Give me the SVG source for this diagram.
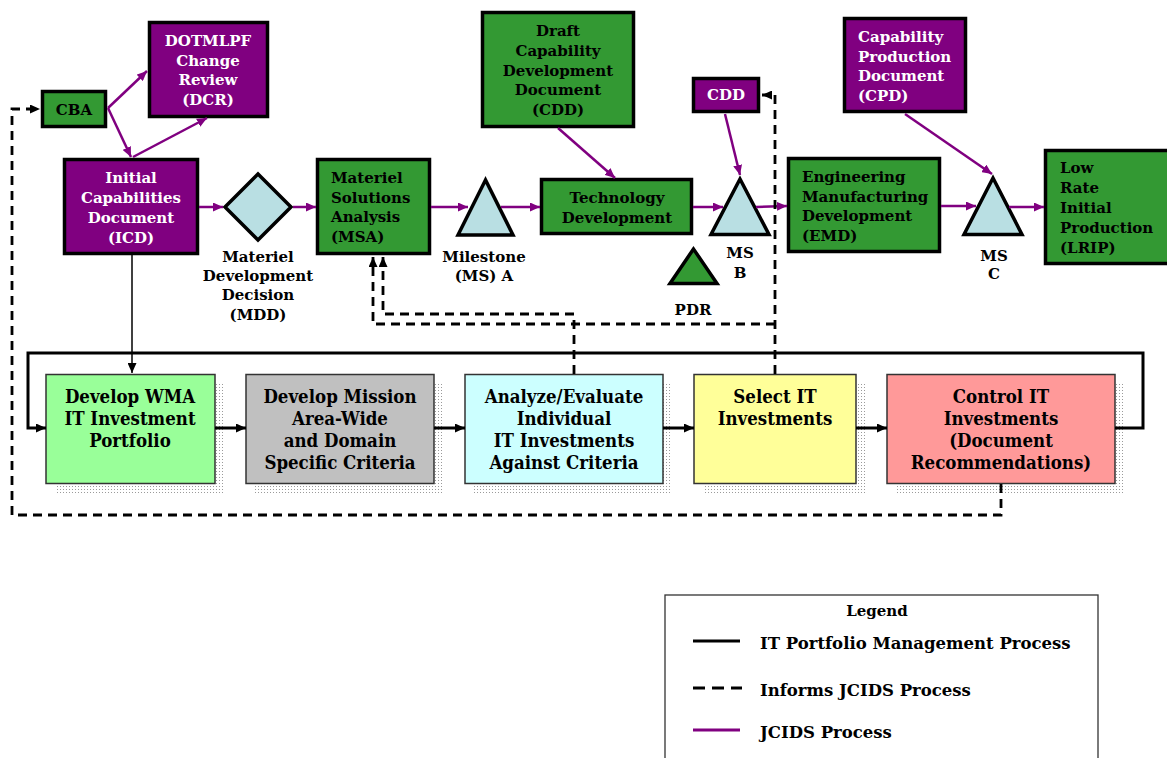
<svg xmlns="http://www.w3.org/2000/svg" width="1167" height="758" viewBox="0 0 1167 758">
  <style>
    .t { font-family: "DejaVu Serif", "Liberation Serif", serif; font-weight: bold; font-size: 15px; fill: #000; }
    .b { font-family: "DejaVu Serif Condensed", "DejaVu Serif", "Liberation Serif", serif; font-stretch: condensed; font-weight: bold; font-size: 18.5px; fill: #000; text-anchor: middle; }
    .lg { font-size: 16.5px; }
    .w { fill: #fff; }
    .c { text-anchor: middle; }
    .grn { fill: #339933; stroke: #000; stroke-width: 3.5; }
    .pur { fill: #800080; stroke: #000; stroke-width: 3.5; }
    .ms { fill: #b9dfe3; stroke: #000; stroke-width: 3.5; stroke-linejoin: miter; }
    .box { stroke: #333; stroke-width: 1.5; }
    .shadow { fill: url(#dots); }
    .jc { fill: none; stroke: #800080; stroke-width: 2.5; marker-end: url(#ap); }
    .pm { fill: none; stroke: #000; stroke-width: 3; marker-end: url(#ab); }
    .inf { fill: none; stroke: #000; stroke-width: 2.8; stroke-dasharray: 9 6; marker-end: url(#ab); }
  </style>
  <defs>
    <marker id="ap" markerUnits="userSpaceOnUse" markerWidth="11" markerHeight="9" refX="10" refY="4.5" orient="auto">
      <path d="M0,0 L10,4.5 L0,9 z" fill="#800080"/>
    </marker>
    <marker id="ab" markerUnits="userSpaceOnUse" markerWidth="11" markerHeight="9" refX="10" refY="4.5" orient="auto">
      <path d="M0,0 L10,4.5 L0,9 z" fill="#000"/>
    </marker>
    <pattern id="dots" width="3" height="3" patternUnits="userSpaceOnUse">
      <rect x="0" y="0" width="1" height="1" fill="#9a9a9a"/>
    </pattern>
  </defs>

  <!-- JCIDS acquisition chain -->
  <g id="cba">
    <rect class="grn" x="42.5" y="91.5" width="63" height="35"/>
    <text class="t c" x="74" y="115">CBA</text>
  </g>
  <g id="dcr">
    <rect class="pur" x="149.5" y="22.5" width="118" height="94"/>
    <text class="t c w" x="208" y="46">DOTMLPF</text>
    <text class="t c w" x="208" y="66">Change</text>
    <text class="t c w" x="208" y="85">Review</text>
    <text class="t c w" x="208" y="105">(DCR)</text>
  </g>
  <g id="icd">
    <rect class="pur" x="64.5" y="159.5" width="133" height="94"/>
    <text class="t c w" x="131" y="183">Initial</text>
    <text class="t c w" x="131" y="203">Capabilities</text>
    <text class="t c w" x="131" y="223">Document</text>
    <text class="t c w" x="131" y="243">(ICD)</text>
  </g>
  <g id="mdd">
    <polygon class="ms" points="258,174 291,207 258,240 225,207"/>
    <text class="t c" x="258" y="262">Materiel</text>
    <text class="t c" x="258" y="281">Development</text>
    <text class="t c" x="258" y="300">Decision</text>
    <text class="t c" x="258" y="320">(MDD)</text>
  </g>
  <g id="msa">
    <rect class="grn" x="317.5" y="159.5" width="112" height="94"/>
    <text class="t" x="331" y="183">Materiel</text>
    <text class="t" x="331" y="203">Solutions</text>
    <text class="t" x="331" y="222">Analysis</text>
    <text class="t" x="331" y="242">(MSA)</text>
  </g>
  <g id="ms-a">
    <polygon class="ms" points="485.5,180 458,235 513,235"/>
    <text class="t c" x="484" y="262">Milestone</text>
    <text class="t c" x="484" y="281">(MS) A</text>
  </g>
  <g id="draft-cdd">
    <rect class="grn" x="482.5" y="12.5" width="151" height="114"/>
    <text class="t c" x="558" y="36">Draft</text>
    <text class="t c" x="558" y="56">Capability</text>
    <text class="t c" x="558" y="76">Development</text>
    <text class="t c" x="558" y="95">Document</text>
    <text class="t c" x="558" y="115">(CDD)</text>
  </g>
  <g id="td">
    <rect class="grn" x="541.5" y="179.5" width="150" height="54"/>
    <text class="t c" x="617" y="203">Technology</text>
    <text class="t c" x="617" y="223">Development</text>
  </g>
  <g id="cdd">
    <rect class="pur" x="693.5" y="78.5" width="65" height="33"/>
    <text class="t c w" x="726" y="100">CDD</text>
  </g>
  <g id="ms-b">
    <polygon class="ms" points="740,179 711,234.5 769,234.5"/>
    <text class="t c" x="740" y="258">MS</text>
    <text class="t c" x="740" y="278">B</text>
  </g>
  <g id="pdr">
    <polygon class="grn" points="693.5,249 670,283.5 717,283.5"/>
    <text class="t c" x="693" y="315">PDR</text>
  </g>
  <g id="emd">
    <rect class="grn" x="788.5" y="158.5" width="151" height="93"/>
    <text class="t" x="802" y="182">Engineering</text>
    <text class="t" x="802" y="202">Manufacturing</text>
    <text class="t" x="802" y="221">Development</text>
    <text class="t" x="802" y="241">(EMD)</text>
  </g>
  <g id="cpd">
    <rect class="pur" x="844.5" y="18.5" width="121" height="93"/>
    <text class="t w" x="858" y="42">Capability</text>
    <text class="t w" x="858" y="62">Production</text>
    <text class="t w" x="858" y="81">Document</text>
    <text class="t w" x="858" y="101">(CPD)</text>
  </g>
  <g id="ms-c">
    <polygon class="ms" points="993,178 964,234.5 1022,234.5"/>
    <text class="t c" x="994" y="261">MS</text>
    <text class="t c" x="994" y="279">C</text>
  </g>
  <g id="lrip">
    <rect class="grn" x="1045.5" y="150.5" width="130" height="113"/>
    <text class="t" x="1060" y="173">Low</text>
    <text class="t" x="1060" y="193">Rate</text>
    <text class="t" x="1060" y="213">Initial</text>
    <text class="t" x="1060" y="233">Production</text>
    <text class="t" x="1060" y="253">(LRIP)</text>
  </g>

  <!-- IT portfolio management steps -->
  <g id="wma">
    <rect class="shadow" x="55" y="384" width="169" height="109"/>
    <rect class="box" fill="#99ff99" x="46" y="374.5" width="169" height="109"/>
    <text class="b" x="130" y="403">Develop WMA</text>
    <text class="b" x="130" y="425">IT Investment</text>
    <text class="b" x="130" y="447">Portfolio</text>
  </g>
  <g id="criteria">
    <rect class="shadow" x="255" y="384" width="188" height="109"/>
    <rect class="box" fill="#c0c0c0" x="246" y="374.5" width="188" height="109"/>
    <text class="b" x="340" y="403">Develop Mission</text>
    <text class="b" x="340" y="425">Area-Wide</text>
    <text class="b" x="340" y="447">and Domain</text>
    <text class="b" x="340" y="469">Specific Criteria</text>
  </g>
  <g id="analyze">
    <rect class="shadow" x="474" y="384" width="198" height="109"/>
    <rect class="box" fill="#ccffff" x="465" y="374.5" width="198" height="109"/>
    <text class="b" x="564" y="403">Analyze/Evaluate</text>
    <text class="b" x="564" y="425">Individual</text>
    <text class="b" x="564" y="447">IT Investments</text>
    <text class="b" x="564" y="469">Against Criteria</text>
  </g>
  <g id="select">
    <rect class="shadow" x="703" y="384" width="162" height="109"/>
    <rect class="box" fill="#ffff99" x="694" y="374.5" width="162" height="109"/>
    <text class="b" x="775" y="403">Select IT</text>
    <text class="b" x="775" y="425">Investments</text>
  </g>
  <g id="control">
    <rect class="shadow" x="896" y="384" width="228" height="109"/>
    <rect class="box" fill="#ff9999" x="887" y="374.5" width="228" height="109"/>
    <text class="b" x="1001" y="403">Control IT</text>
    <text class="b" x="1001" y="425">Investments</text>
    <text class="b" x="1001" y="447">(Document</text>
    <text class="b" x="1001" y="469">Recommendations)</text>
  </g>

  <g id="connectors">
    <!-- JCIDS flow -->
    <line class="jc" x1="108" y1="108" x2="147" y2="71"/>
    <line class="jc" x1="108" y1="108" x2="131" y2="157"/>
    <line class="jc" x1="133" y1="157" x2="207" y2="118"/>
    <line class="jc" x1="199" y1="207" x2="223" y2="207"/>
    <line class="jc" x1="293" y1="207" x2="316" y2="207"/>
    <line class="jc" x1="431" y1="207" x2="468" y2="207"/>
    <line class="jc" x1="501" y1="207" x2="540" y2="207"/>
    <line class="jc" x1="558" y1="128" x2="615" y2="178"/>
    <line class="jc" x1="693" y1="207" x2="723" y2="207"/>
    <line class="jc" x1="756" y1="207" x2="787" y2="206"/>
    <line class="jc" x1="725" y1="114" x2="740" y2="175"/>
    <line class="jc" x1="941" y1="206" x2="976" y2="206"/>
    <line class="jc" x1="1009" y1="207" x2="1044" y2="207"/>
    <line class="jc" x1="905" y1="114" x2="992" y2="174"/>

    <!-- IT portfolio management flow -->
    <line class="pm" style="stroke-width:1.5" x1="132" y1="255" x2="132" y2="373"/>
    <path class="pm" d="M1115,428 H1143 V353 H28 V428 H46"/>
    <line class="pm" x1="215" y1="428" x2="246" y2="428"/>
    <line class="pm" x1="434" y1="428" x2="465" y2="428"/>
    <line class="pm" x1="663" y1="428" x2="694" y2="428"/>
    <line class="pm" x1="856" y1="428" x2="887" y2="428"/>

    <!-- feedback into JCIDS -->
    <path class="inf" d="M1001,484 V515 H12 V109 H40"/>
    <path class="inf" d="M574,374 V314 H383 V257"/>
    <path class="inf" d="M775,374 V95 H762"/>
    <path class="inf" d="M775,324 H373 V257"/>
  </g>

  <g id="legend">
    <rect x="665" y="595" width="433" height="175" fill="#fff" stroke="#333" stroke-width="1.3"/>
    <text class="t c" x="877" y="616">Legend</text>
    <line x1="693" y1="641" x2="740" y2="641" stroke="#000" stroke-width="3"/>
    <text class="t lg" x="760" y="649">IT Portfolio Management Process</text>
    <line x1="693" y1="688" x2="742" y2="688" stroke="#000" stroke-width="3" stroke-dasharray="12 7"/>
    <text class="t lg" x="760" y="696">Informs JCIDS Process</text>
    <line x1="693" y1="730" x2="740" y2="730" stroke="#800080" stroke-width="3"/>
    <text class="t lg" x="760" y="738">JCIDS Process</text>
  </g>
</svg>
